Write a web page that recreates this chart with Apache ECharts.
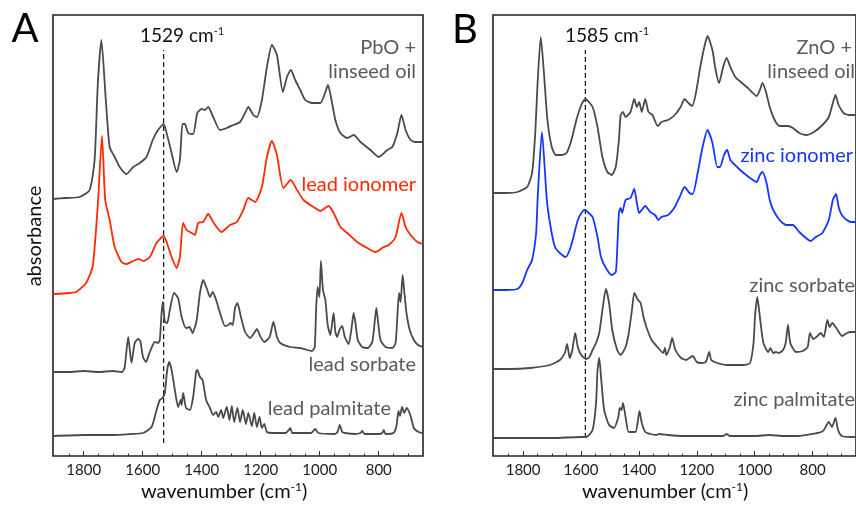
<!DOCTYPE html>
<html lang="en">
<head>
    <meta charset="UTF-8">
    <title>IR spectra of lead and zinc soaps</title>
    <script src="https://cdn.jsdelivr.net/npm/echarts@6/dist/echarts.min.js"></script>
    <style>
        html, body { margin: 0; padding: 0; background: #fff; }
        #chart { width: 856px; height: 506px; }
    </style>
</head>
<body>
    <div id="chart"></div>
    <script>
        // wavenumber range shown (cm-1), both panels
        const wnMin = 650;
        const wnMax = 1904;
        const majorTicks = [800, 1000, 1200, 1400, 1600, 1800];
        const minorTicks = [700, 750, 850, 900, 950, 1050, 1100, 1150, 1250, 1300, 1350,
            1450, 1500, 1550, 1650, 1700, 1750, 1850];

        // marker positions (cm-1)
        const leadMarker = 1529;
        const zincMarker = 1585;

        // spectra: [wavenumber, absorbance (a.u., stacked with offsets)]
        const leadOil = [[1904,257],[1860,258],[1814,259],[1780,266],[1763,296],[1752,373],[1740,416],[1725,356],[1712,309],[1695,299],[1678,289],[1655,282],[1632,289],[1610,293],[1587,299],[1566,316],[1548,326],[1529,332],[1519,323],[1502,303],[1485,284],[1474,296],[1465,332],[1457,332],[1446,323],[1429,322],[1415,343],[1400,347],[1389,346],[1378,349],[1361,339],[1338,326],[1315,328],[1293,331],[1270,334],[1253,343],[1242,349],[1225,341],[1213,339],[1196,356],[1179,389],[1162,411],[1145,401],[1125,364],[1111,379],[1098,386],[1083,376],[1066,366],[1049,356],[1026,353],[998,353],[981,364],[972,371],[962,359],[947,336],[930,323],[907,318],[885,321],[862,314],[828,306],[800,299],[771,306],[754,309],[737,323],[723,341],[709,326],[692,316],[675,314],[650,314]];

        const leadIonomer = [[1904,162],[1850,163],[1826,164],[1792,173],[1770,189],[1759,223],[1751,256],[1738,320],[1727,256],[1712,236],[1695,209],[1672,194],[1655,192],[1632,195],[1615,197],[1598,195],[1576,199],[1553,213],[1529,220],[1519,214],[1502,199],[1485,188],[1474,199],[1463,233],[1451,226],[1434,223],[1423,221],[1412,233],[1395,234],[1378,242],[1361,234],[1333,224],[1304,231],[1281,234],[1259,246],[1242,258],[1219,254],[1196,269],[1179,299],[1162,315],[1145,301],[1123,268],[1098,276],[1077,266],[1055,256],[1021,249],[998,245],[970,250],[953,243],[930,229],[907,223],[873,214],[839,208],[811,204],[783,209],[766,211],[743,219],[723,243],[709,229],[692,221],[669,214],[650,212]];

        const leadSorbate = [[1904,84],[1850,84],[1800,85],[1750,84],[1700,85],[1670,84],[1661,89],[1649,119],[1638,93],[1627,113],[1615,117],[1608,115],[1599,99],[1589,94],[1576,104],[1559,114],[1548,113],[1542,116],[1536,143],[1532,154],[1525,134],[1517,133],[1508,146],[1494,163],[1480,158],[1468,139],[1453,128],[1442,129],[1431,123],[1417,136],[1406,163],[1395,176],[1381,166],[1372,159],[1363,164],[1351,156],[1338,143],[1321,130],[1310,131],[1302,133],[1295,131],[1287,148],[1279,153],[1267,139],[1253,124],[1236,118],[1222,123],[1213,127],[1202,120],[1188,114],[1170,119],[1157,134],[1145,119],[1134,113],[1100,109],[1066,108],[1043,106],[1026,105],[1017,109],[1012,149],[1007,169],[1001,159],[996,195],[989,166],[981,156],[973,131],[964,121],[953,143],[947,124],[941,119],[932,127],[924,130],[915,119],[902,112],[893,126],[885,143],[879,133],[871,116],[856,109],[837,108],[822,114],[813,136],[808,148],[803,136],[794,116],[777,109],[754,108],[743,113],[735,149],[731,163],[726,154],[719,181],[713,163],[706,143],[695,126],[681,116],[667,111],[650,109]];

        const leadPalmitate = [[1904,20],[1800,21],[1700,21],[1640,22],[1599,23],[1570,29],[1553,46],[1542,56],[1533,58],[1525,63],[1517,86],[1510,94],[1502,86],[1491,66],[1480,49],[1471,56],[1468,51],[1463,63],[1453,48],[1440,46],[1429,59],[1419,84],[1415,86],[1406,79],[1397,76],[1385,56],[1372,48],[1361,41],[1351,44],[1344,39],[1334,46],[1327,38],[1315,49],[1306,36],[1298,50],[1290,34],[1279,48],[1270,34],[1261,46],[1250,32],[1242,43],[1230,30],[1222,43],[1213,29],[1204,39],[1196,28],[1188,32],[1179,24],[1157,23],[1134,23],[1115,23],[1105,26],[1100,28],[1093,23],[1060,23],[1030,23],[1015,27],[1005,23],[950,22],[940,24],[932,31],[924,24],[915,23],[880,22],[862,23],[856,25],[848,22],[800,22],[788,23],[783,26],[777,22],[750,23],[740,30],[733,45],[728,40],[721,49],[714,43],[705,48],[692,40],[681,28],[665,24],[650,23]];

        const zincOil = [[1904,263],[1860,263],[1820,264],[1786,269],[1769,283],[1758,323],[1750,373],[1739,419],[1728,383],[1716,336],[1701,309],[1687,301],[1667,301],[1650,303],[1633,316],[1616,336],[1599,351],[1585,357],[1560,349],[1543,329],[1526,299],[1509,284],[1494,281],[1480,289],[1469,316],[1463,341],[1455,344],[1446,339],[1429,344],[1416,357],[1407,349],[1399,354],[1390,344],[1378,357],[1367,344],[1353,341],[1335,330],[1322,334],[1299,336],[1276,341],[1256,349],[1242,357],[1229,353],[1216,350],[1203,363],[1188,389],[1174,409],[1163,420],[1146,406],[1135,386],[1123,373],[1109,389],[1097,398],[1084,389],[1067,379],[1044,373],[1027,369],[1010,364],[993,360],[982,366],[973,373],[961,364],[948,349],[931,336],[914,330],[885,330],[868,328],[846,323],[823,321],[795,324],[766,331],[744,339],[730,353],[721,361],[710,351],[693,343],[676,341],[650,341]];

        const zincIonomer = [[1904,166],[1860,166],[1820,167],[1803,173],[1786,186],[1769,196],[1755,223],[1750,256],[1735,324],[1718,256],[1705,229],[1690,209],[1673,203],[1653,199],[1639,206],[1626,219],[1611,236],[1594,245],[1585,246],[1577,244],[1560,239],[1543,219],[1531,199],[1514,188],[1494,181],[1480,184],[1475,206],[1469,243],[1463,248],[1458,243],[1446,256],[1429,258],[1416,267],[1407,253],[1399,243],[1378,250],[1361,244],[1344,241],[1333,236],[1322,239],[1299,241],[1276,249],[1259,259],[1242,269],[1225,263],[1214,262],[1197,283],[1180,309],[1163,326],[1146,313],[1129,289],[1120,289],[1106,301],[1095,306],[1084,296],[1061,289],[1038,283],[1016,278],[993,274],[982,281],[973,284],[959,273],[948,256],[936,246],[914,236],[891,231],[868,231],[846,224],[823,218],[806,215],[789,219],[766,223],[744,236],[730,256],[719,262],[710,249],[699,241],[682,236],[666,234],[650,234]];

        const zincSorbate = [[1904,87],[1850,87],[1775,88],[1707,91],[1673,96],[1656,103],[1648,112],[1639,98],[1630,106],[1620,123],[1611,109],[1599,101],[1582,97],[1571,99],[1560,106],[1548,113],[1537,123],[1526,146],[1514,167],[1503,153],[1492,126],[1475,106],[1463,101],[1446,109],[1435,123],[1424,146],[1416,163],[1410,160],[1403,156],[1394,153],[1384,139],[1373,128],[1356,116],[1333,108],[1316,103],[1310,108],[1305,101],[1293,109],[1285,118],[1274,106],[1254,98],[1237,96],[1214,100],[1200,94],[1186,93],[1169,94],[1157,104],[1150,96],[1129,93],[1095,91],[1038,91],[1016,93],[1004,113],[999,139],[991,159],[982,139],[970,113],[953,104],[946,108],[936,103],[927,104],[916,103],[902,106],[893,113],[885,131],[877,113],[857,104],[834,105],[817,109],[809,123],[798,117],[783,120],[772,123],[761,119],[749,136],[741,129],[732,133],[718,128],[698,120],[681,123],[666,124],[650,124]];

        const zincPalmitate = [[1904,18],[1800,18],[1700,18],[1600,19],[1582,19],[1560,26],[1548,53],[1543,86],[1537,98],[1530,76],[1520,46],[1503,31],[1486,28],[1471,39],[1466,48],[1460,46],[1455,53],[1446,39],[1435,24],[1412,24],[1404,34],[1398,45],[1390,33],[1378,24],[1360,22],[1340,21],[1330,22],[1300,21],[1250,20],[1200,20],[1110,20],[1097,22],[1085,20],[1000,20],[950,21],[900,20],[850,20],[783,23],[770,24],[761,26],[744,34],[733,29],[721,38],[712,26],[699,20],[666,19],[650,19]];

        const gray = '#4a4a4a';
        const red = '#ff2a00';
        const blue = '#1436ff';
        const labelGray = '#5a5a5a';
        const fontFam = 'Lato, "Open Sans", sans-serif';

        const chart = echarts.init(document.getElementById('chart'), null, { renderer: 'canvas' });

        function xAxes(gi) {
            return [
                {
                    gridIndex: gi, type: 'value', inverse: true, min: wnMin, max: wnMax,
                    position: 'bottom',
                    axisLine: { show: false },
                    splitLine: { show: false },
                    axisTick: { show: true, inside: true, length: 5, customValues: majorTicks,
                        lineStyle: { color: '#333', width: 1 } },
                    axisLabel: { customValues: majorTicks, fontSize: 15, color: '#1a1a1a',
                        fontFamily: fontFam, margin: 7,
                        formatter: function (v) { return String(v); } }
                },
                {
                    gridIndex: gi, type: 'value', inverse: true, min: wnMin, max: wnMax,
                    position: 'bottom',
                    axisLine: { show: false },
                    splitLine: { show: false },
                    axisTick: { show: true, inside: true, length: 2.5, customValues: minorTicks,
                        lineStyle: { color: '#333', width: 1 } },
                    axisLabel: { show: false }
                }
            ];
        }

        function spectrum(name, data, color, axisIdx) {
            return {
                name: name, type: 'line', data: data,
                xAxisIndex: axisIdx, yAxisIndex: axisIdx / 2,
                showSymbol: false, smooth: 0.2, silent: true,
                lineStyle: { color: color, width: 1.8 },
                z: 3
            };
        }

        function marker(value, low, high, axisIdx) {
            return {
                type: 'line', data: [[value, low], [value, high]],
                xAxisIndex: axisIdx, yAxisIndex: axisIdx / 2,
                showSymbol: false, silent: true,
                lineStyle: { color: '#111', width: 1.2, type: [5, 3] },
                z: 2
            };
        }

        function label(text, x, y, color, align) {
            return {
                type: 'text', x: x, y: y,
                style: { text: text, fill: color, font: '20px ' + fontFam,
                    align: align || 'right', verticalAlign: 'middle' }
            };
        }

        function supLabel(main, sup, x, y, size) {
            return {
                type: 'text', x: x, y: y,
                style: {
                    text: '{a|' + main + '}{s|' + sup + '}{a|' + (main.indexOf('(') >= 0 ? ')' : '') + '}',
                    align: 'left', verticalAlign: 'middle',
                    rich: {
                        a: { fontSize: size, fontFamily: fontFam, fill: '#111', color: '#111', lineHeight: size + 2 },
                        s: { fontSize: Math.round(size * 0.6), fontFamily: fontFam, fill: '#111', color: '#111',
                            verticalAlign: 'top', lineHeight: size + 2 }
                    }
                }
            };
        }

        const option = {
            backgroundColor: '#fff',
            animation: false,
            grid: [
                { left: 53, top: 15, width: 370, height: 441, show: true,
                  borderColor: '#222', borderWidth: 1.6, backgroundColor: 'transparent' },
                { left: 493, top: 15, width: 370, height: 441, show: true,
                  borderColor: '#222', borderWidth: 1.6, backgroundColor: 'transparent' }
            ],
            xAxis: xAxes(0).concat(xAxes(1)),
            yAxis: [
                { gridIndex: 0, type: 'value', min: 0, max: 441, show: false },
                { gridIndex: 1, type: 'value', min: 0, max: 441, show: false }
            ],
            series: [
                marker(leadMarker, 13, 406, 0),
                spectrum('PbO + linseed oil', leadOil, gray, 0),
                spectrum('lead ionomer', leadIonomer, red, 0),
                spectrum('lead sorbate', leadSorbate, gray, 0),
                spectrum('lead palmitate', leadPalmitate, gray, 0),
                marker(zincMarker, 18, 406, 2),
                spectrum('ZnO + linseed oil', zincOil, gray, 2),
                spectrum('zinc ionomer', zincIonomer, blue, 2),
                spectrum('zinc sorbate', zincSorbate, gray, 2),
                spectrum('zinc palmitate', zincPalmitate, gray, 2)
            ],
            graphic: [
                { type: 'text', x: 25, y: 29, style: { text: 'A', font: '40px ' + fontFam, fill: '#000', align: 'center', verticalAlign: 'middle' } },
                { type: 'text', x: 465, y: 30, style: { text: 'B', font: '40px ' + fontFam, fill: '#000', align: 'center', verticalAlign: 'middle' } },
                supLabel(leadMarker + ' cm', '-1', 140, 36, 19),
                supLabel(zincMarker + ' cm', '-1', 565, 36, 19),
                label('PbO +', 416, 48, labelGray),
                label('linseed oil', 416, 72, labelGray),
                label('lead ionomer', 416, 185, red),
                label('lead sorbate', 416, 365, labelGray),
                label('lead palmitate', 391, 409, labelGray),
                label('ZnO +', 852, 48, labelGray),
                label('linseed oil', 855, 72, labelGray),
                label('zinc ionomer', 853, 156, blue),
                label('zinc sorbate', 855, 286, labelGray),
                label('zinc palmitate', 855, 400, labelGray),
                { type: 'text', x: 35, y: 236, rotation: Math.PI / 2,
                  style: { text: 'absorbance', font: '20px ' + fontFam, fill: '#111', align: 'center', verticalAlign: 'middle' } },
                supLabel('wavenumber (cm', '-1', 141, 492, 20),
                supLabel('wavenumber (cm', '-1', 582, 492, 20)
            ]
        };

        chart.setOption(option);
    </script>
</body>
</html>
